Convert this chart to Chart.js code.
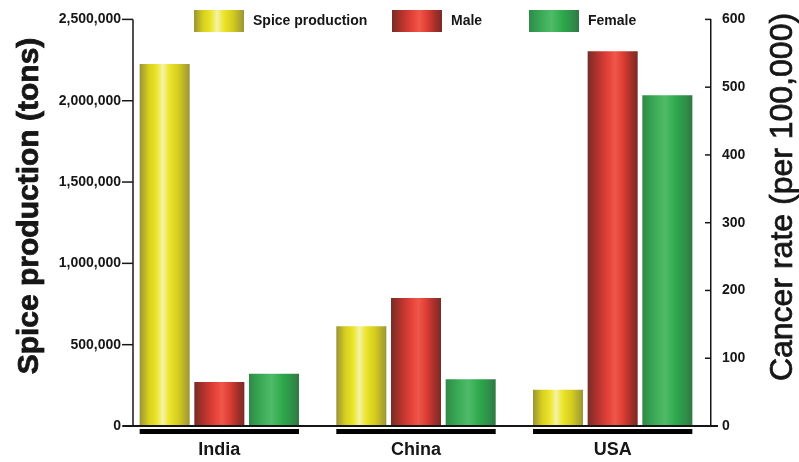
<!DOCTYPE html>
<html>
<head>
<meta charset="utf-8">
<script src="https://cdn.jsdelivr.net/npm/chart.js@4/dist/chart.umd.min.js"></script>
<style>
  html, body { margin: 0; padding: 0; background: #fff; }
  #wrap { width: 799px; height: 462px; position: relative; }
</style>
</head>
<body>
<div id="wrap"><canvas id="chart"></canvas></div>
<script>
'use strict';

// data
var categories = ['India', 'China', 'USA'];
var seriesNames = ['Spice production', 'Male', 'Female'];
var spiceProduction = [2226000, 614000, 223000];   // tons, left axis
var maleRate = [65, 189, 553];                      // per 100,000, right axis
var femaleRate = [77, 69, 488];
var leftTicks = [0, 500000, 1000000, 1500000, 2000000, 2500000];
var rightTicks = [0, 100, 200, 300, 400, 500, 600];

var FONT = "'Liberation Sans', Arial, Helvetica, sans-serif";
var INK = '#161616';
var CAT_PCT = 0.834;
var BAR_PCT = 0.915;
var AXIS_X = 133;   // left axis line sits a little inside the plot area

// cylinder-like horizontal shading for each series
var shades = [
    [[0, '#9a9436'], [0.18, '#d6cf1e'], [0.34, '#ece52a'], [0.46, '#f6f2a6'], [0.6, '#ebe427'], [0.78, '#d3cb1f'], [1, '#9b9538']],
    [[0, '#782c27'], [0.22, '#bb342d'], [0.42, '#e7433a'], [0.55, '#ef5749'], [0.7, '#e03d35'], [0.87, '#a52f29'], [1, '#772c27']],
    [[0, '#2f8a49'], [0.2, '#37a653'], [0.45, '#4fbb69'], [0.68, '#2da84b'], [0.88, '#2f8c49'], [1, '#2f7844']]
];
var flat = ['#e3dc22', '#e2403a', '#39a753'];

function makeGradient(ctx2d, left, width, stops) {
    var g = ctx2d.createLinearGradient(left, 0, left + width, 0);
    stops.forEach(function(s) { g.addColorStop(s[0], s[1]); });
    return g;
}

function barFill(context) {
    var chart = context.chart;
    var ds = context.datasetIndex;
    var xs = chart.scales.x;
    if (context.type !== 'data' || !xs || !chart.chartArea) {
        return flat[ds];
    }
    var cat = xs.width / categories.length;
    var group = cat * CAT_PCT;
    var slot = group / seriesNames.length;
    var bw = slot * BAR_PCT;
    var center = xs.getPixelForValue(context.dataIndex);
    var left = center - group / 2 + slot * ds + (slot - bw) / 2;
    return makeGradient(chart.ctx, left, bw, shades[ds]);
}

function fmt(v) { return v.toLocaleString('en-US'); }

function rotatedText(c, text, x, y, font, stroke) {
    c.save();
    c.font = font;
    c.translate(x, y);
    c.rotate(-Math.PI / 2);
    c.fillText(text, 0, 0);
    if (stroke) {
        c.lineWidth = stroke;
        c.strokeStyle = c.fillStyle;
        c.strokeText(text, 0, 0);
    }
    c.restore();
}

var extras = {
    id: 'extras',
    afterDatasetsDraw: function(chart) {
        var c = chart.ctx, a = chart.chartArea;
        var l = chart.scales.y, r = chart.scales.y1;
        c.save();
        c.strokeStyle = INK;
        // left axis line and its outward ticks
        c.lineWidth = 1.5;
        c.beginPath();
        c.moveTo(AXIS_X, l.getPixelForValue(leftTicks[leftTicks.length - 1]));
        c.lineTo(AXIS_X, a.bottom);
        c.stroke();
        l.ticks.forEach(function(t) {
            var y = l.getPixelForValue(t.value);
            c.beginPath();
            c.moveTo(AXIS_X - 11, y);
            c.lineTo(AXIS_X, y);
            c.stroke();
        });
        // right axis ticks point inward
        r.ticks.forEach(function(t) {
            var y = r.getPixelForValue(t.value);
            c.beginPath();
            c.moveTo(a.right - 6, y);
            c.lineTo(a.right, y);
            c.stroke();
        });
        // baseline
        c.lineWidth = 2;
        c.beginPath();
        c.moveTo(AXIS_X - 10, a.bottom);
        c.lineTo(a.right + 7, a.bottom);
        c.stroke();
        // thick underline below each country group
        var first = chart.getDatasetMeta(0), last = chart.getDatasetMeta(seriesNames.length - 1);
        c.fillStyle = '#000';
        categories.forEach(function(cat, i) {
            var b0 = first.data[i], b1 = last.data[i];
            var x0 = b0.x - b0.width / 2, x1 = b1.x + b1.width / 2;
            c.fillRect(x0, a.bottom + 3, x1 - x0, 5);
        });
        c.restore();
    },
    afterDraw: function(chart) {
        var c = chart.ctx;
        c.save();
        c.fillStyle = INK;
        c.textAlign = 'center';
        c.textBaseline = 'alphabetic';
        // axis titles, both reading upward
        rotatedText(c, 'Spice production (tons)', 38, 206, 'bold 30px ' + FONT, 0.8);
        rotatedText(c, 'Cancer rate (per 100,000)', 792, 197, '32px ' + FONT, 0.7);
        // legend overlapping the top of the plot
        var boxX = [194, 392, 529];
        c.textAlign = 'left';
        c.textBaseline = 'middle';
        c.font = 'bold 14px ' + FONT;
        seriesNames.forEach(function(name, i) {
            c.fillStyle = makeGradient(c, boxX[i], 50, shades[i]);
            c.fillRect(boxX[i], 10, 50, 22);
            c.fillStyle = INK;
            c.fillText(name, boxX[i] + 59, 21);
        });
        c.restore();
    }
};

new Chart(document.getElementById('chart'), {
    type: 'bar',
    data: {
        labels: categories,
        datasets: [
            { label: seriesNames[0], data: spiceProduction, yAxisID: 'y', backgroundColor: barFill },
            { label: seriesNames[1], data: maleRate, yAxisID: 'y1', backgroundColor: barFill },
            { label: seriesNames[2], data: femaleRate, yAxisID: 'y1', backgroundColor: barFill }
        ]
    },
    options: {
        responsive: true,
        maintainAspectRatio: false,
        animation: false,
        categoryPercentage: CAT_PCT,
        barPercentage: BAR_PCT,
        layout: { padding: { top: 15, left: 0, right: 0, bottom: 0 } },
        plugins: {
            legend: { display: false },
            tooltip: { enabled: false }
        },
        scales: {
            x: {
                grid: { display: false, drawTicks: false },
                border: { display: false },
                ticks: { color: INK, padding: 13, font: { family: FONT, size: 18, weight: 'bold' } },
                afterFit: function(s) { s.height = 36; }
            },
            y: {
                position: 'left',
                min: 0,
                max: leftTicks[leftTicks.length - 1],
                afterBuildTicks: function(s) { s.ticks = leftTicks.map(function(v) { return { value: v }; }); },
                grid: { display: false, drawTicks: false },
                border: { display: false },
                ticks: { color: INK, padding: 0, font: { family: FONT, size: 14, weight: 'bold' }, callback: function(v) { return fmt(v); } },
                afterFit: function(s) { s.width = 121; }
            },
            y1: {
                position: 'right',
                min: 0,
                max: rightTicks[rightTicks.length - 1],
                afterBuildTicks: function(s) { s.ticks = rightTicks.map(function(v) { return { value: v }; }); },
                grid: { drawOnChartArea: false, drawTicks: false },
                border: { display: true, color: INK, width: 1.5 },
                ticks: { color: INK, padding: 11, font: { family: FONT, size: 14, weight: 'bold' } },
                afterFit: function(s) { s.width = 88; }
            }
        }
    },
    plugins: [extras]
});
</script>
</body>
</html>
